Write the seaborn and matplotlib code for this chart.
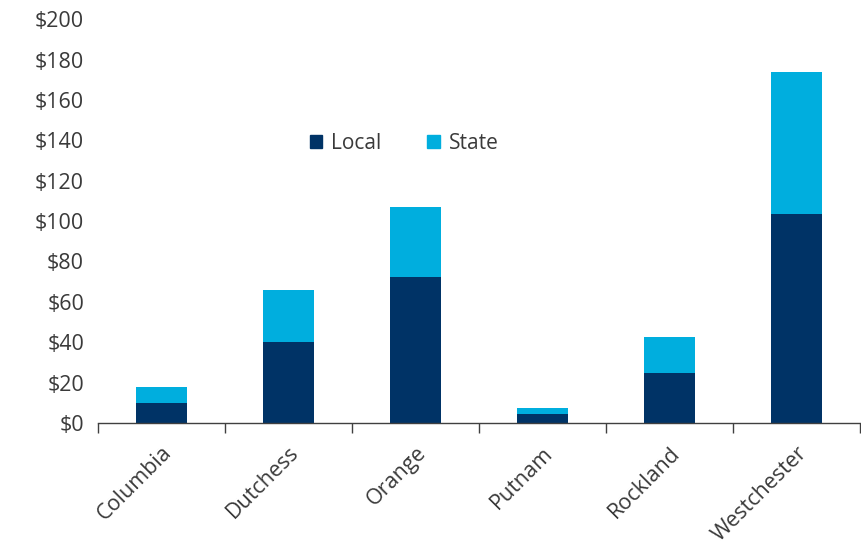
import matplotlib
matplotlib.use('Agg')
import matplotlib.pyplot as plt
from matplotlib.patches import Patch
from matplotlib.ticker import FixedLocator
import pandas as pd
import seaborn as sns

# values (dollars, stacked local + state)
counties = ['Columbia', 'Dutchess', 'Orange', 'Putnam', 'Rockland', 'Westchester']
local = [9.9, 40.1, 72.4, 4.3, 25.0, 103.5]
state = [7.7, 25.7, 34.4, 3.1, 17.6, 70.6]

local_color = '#003366'
state_color = '#00AEDE'
text_color = '#3a3a3a'

df = pd.DataFrame({'county': counties, 'local': local, 'state': state})
df['total'] = df['local'] + df['state']

sns.set_style('white')
plt.rcParams['font.family'] = ['Open Sans', 'DejaVu Sans']

fig = plt.figure(figsize=(8.61, 5.49), dpi=100)
ax = fig.add_axes([0.1138, 0.2295, 0.8852, 0.7355])

# state on top of local: draw totals first, then local over them
sns.barplot(data=df, x='county', y='total', color=state_color, width=0.4,
            saturation=1, linewidth=0, ax=ax)
sns.barplot(data=df, x='county', y='local', color=local_color, width=0.4,
            saturation=1, linewidth=0, ax=ax)

ax.set_xlim(-0.5, 5.5)
ax.set_ylim(0, 200)
ax.set_yticks(range(0, 201, 20))
ax.set_yticklabels(['$%d' % v for v in range(0, 201, 20)],
                   fontsize=15.5, color=text_color)
ax.set_xlabel('')
ax.set_ylabel('')

# tick marks between categories, labels rotated under the bars
ax.tick_params(axis='x', which='major', length=0, pad=14)
ax.xaxis.set_minor_locator(FixedLocator([i - 0.5 for i in range(7)]))
ax.tick_params(axis='x', which='minor', length=7, width=1, color='#404040',
               direction='out', bottom=True)
ax.tick_params(axis='y', length=0, pad=10)
for lbl in ax.get_xticklabels():
    lbl.set_rotation(45)
    lbl.set_ha('right')
    lbl.set_rotation_mode('anchor')
    lbl.set_fontsize(15.5)
    lbl.set_color(text_color)

for side in ['top', 'right', 'left']:
    ax.spines[side].set_visible(False)
ax.spines['bottom'].set_color('#404040')
ax.spines['bottom'].set_linewidth(1)

handles = [Patch(color=local_color, label='Local'),
           Patch(color=state_color, label='State')]
leg = ax.legend(handles=handles, ncol=2, frameon=False, fontsize=15,
                loc='center', bbox_to_anchor=(0.402, 0.692),
                handlelength=0.6, handleheight=0.6, handletextpad=0.45,
                columnspacing=2.2)
for t in leg.get_texts():
    t.set_color(text_color)

fig.savefig('out.png', dpi=100)
